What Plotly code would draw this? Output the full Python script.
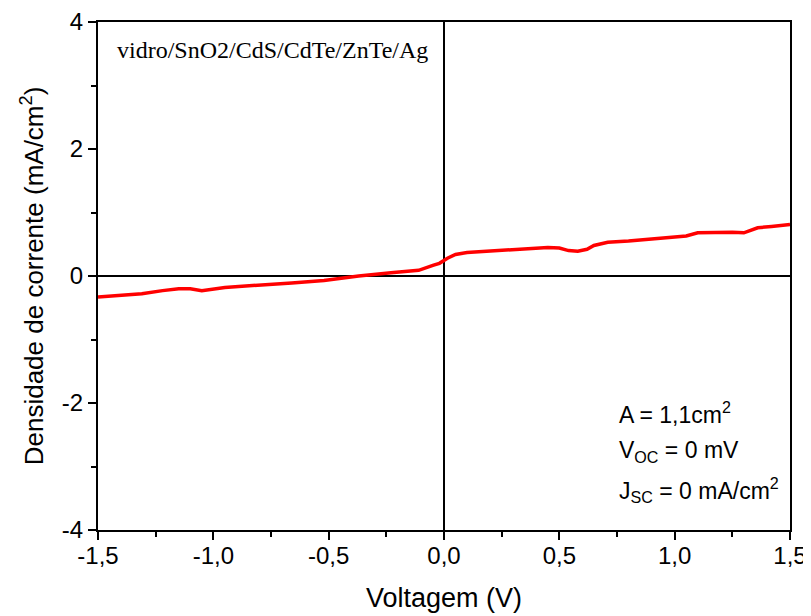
import plotly.graph_objects as go

# curva J-V
voltagem = [-1.5, -1.4, -1.31, -1.22, -1.15, -1.1, -1.05, -0.95, -0.8, -0.66, -0.52,
            -0.37, -0.23, -0.11, -0.045, -0.02, 0.015, 0.05, 0.1, 0.2, 0.27, 0.35,
            0.45, 0.5, 0.54, 0.58, 0.62, 0.65, 0.71, 0.8, 0.9, 0.99, 1.05, 1.1,
            1.18, 1.25, 1.3, 1.36, 1.42, 1.5]
corrente = [-0.33, -0.31, -0.28, -0.23, -0.2, -0.2, -0.23, -0.18, -0.15, -0.11, -0.07,
            0.0, 0.05, 0.09, 0.17, 0.2, 0.28, 0.34, 0.37, 0.39, 0.41, 0.43,
            0.45, 0.44, 0.4, 0.39, 0.42, 0.48, 0.53, 0.55, 0.58, 0.61, 0.63, 0.68,
            0.69, 0.69, 0.68, 0.76, 0.78, 0.81]

x_ticks = [-1.5, -1.0, -0.5, 0.0, 0.5, 1.0, 1.5]
x_labels = ['-1,5', '-1,0', '-0,5', '0,0', '0,5', '1,0', '1,5']
x_minor = [-1.25, -0.75, -0.25, 0.25, 0.75, 1.25]
y_ticks = [-4, -2, 0, 2, 4]
y_labels = ['-4', '-2', '0', '2', '4']
y_minor = [-3, -1, 1, 3]

font = 'Liberation Sans, Arial, sans-serif'

fig = go.Figure()
fig.add_trace(go.Scatter(x=voltagem, y=corrente, mode='lines',
                         line=dict(color='#ff0000', width=3.5), showlegend=False))

axis = dict(showline=True, linecolor='black', linewidth=2, mirror=True,
            ticks='outside', ticklen=8, tickwidth=2, tickcolor='black',
            showgrid=False, zeroline=True, zerolinecolor='black', zerolinewidth=2,
            automargin=False,
            tickfont=dict(family=font, size=24, color='black'))

fig.update_xaxes(**axis, range=[-1.5, 1.5], tickvals=x_ticks, ticktext=x_labels,
                 ticklabelstandoff=-5,
                 minor=dict(tickvals=x_minor, ticks='outside', ticklen=5, tickwidth=2,
                            tickcolor='black'),
                 title=dict(text='Voltagem (V)', font=dict(family=font, size=27, color='black'),
                            standoff=20))
fig.update_yaxes(**axis, range=[-4, 4], tickvals=y_ticks, ticktext=y_labels,
                 minor=dict(tickvals=y_minor, ticks='outside', ticklen=5, tickwidth=2,
                            tickcolor='black'),
                 title=dict(text='Densidade de corrente (mA/cm<sup>2</sup>)',
                            font=dict(family=font, size=26, color='black'), standoff=11))

fig.add_annotation(x=0.025, y=0.945, xref='paper', yref='paper', xanchor='left', yanchor='middle',
                   text='vidro/SnO2/CdS/CdTe/ZnTe/Ag', showarrow=False,
                   font=dict(family='Liberation Serif, Times New Roman, serif', size=24, color='black'))
fig.add_annotation(x=0.75, y=0.23, xref='paper', yref='paper', xanchor='left', yanchor='middle',
                   text='A = 1,1cm<sup>2</sup>', showarrow=False,
                   font=dict(family=font, size=23, color='black'))
fig.add_annotation(x=0.75, y=0.154, xref='paper', yref='paper', xanchor='left', yanchor='middle',
                   text='V<sub>OC</sub> = 0 mV', showarrow=False,
                   font=dict(family=font, size=23, color='black'))
fig.add_annotation(x=0.75, y=0.079, xref='paper', yref='paper', xanchor='left', yanchor='middle',
                   text='J<sub>SC</sub> = 0 mA/cm<sup>2</sup>', showarrow=False,
                   font=dict(family=font, size=23, color='black'))

# a página tem 8px de margem no body, por isso a figura é 8px menor
fig.update_layout(width=803, height=608, plot_bgcolor='white', paper_bgcolor='white',
                  margin=dict(l=90, r=21, t=14, b=86))

fig.write_html('out.html')
